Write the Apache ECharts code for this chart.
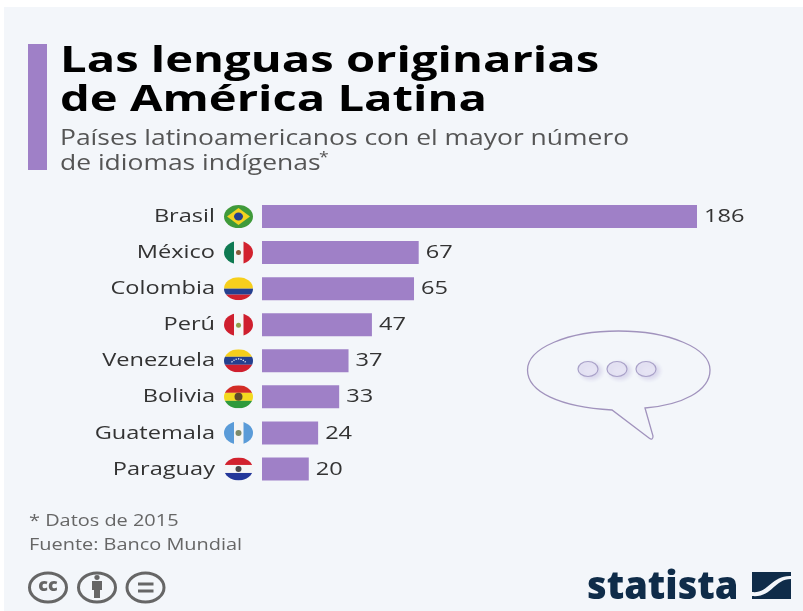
<!DOCTYPE html>
<html><head><meta charset="utf-8">
<style>html,body{margin:0;padding:0;background:#fff}#c{width:803px;height:611px}</style>
<script src="https://cdn.jsdelivr.net/npm/echarts@6/dist/echarts.min.js"></script>
</head><body><div id="c"></div>
<script>
const countries = ['Brasil','México','Colombia','Perú','Venezuela','Bolivia','Guatemala','Paraguay'];
const languages = [186,67,65,47,37,33,24,20];
const titleLines = ['Las lenguas originarias','de América Latina'];
const subtitleLines = ['Países latinoamericanos con el mayor número','de idiomas indígenas'];
const noteLines = ['* Datos de 2015','Fuente: Banco Mundial'];

function svg(body){
  return 'data:image/svg+xml;charset=utf-8,'+encodeURIComponent(
   '<svg xmlns="http://www.w3.org/2000/svg" width="58" height="46" viewBox="0 0 58 46"><defs><clipPath id="e"><ellipse cx="29" cy="23" rx="29" ry="23"/></clipPath></defs><g clip-path="url(#e)">'+body+'</g></svg>');
}
const R=(x,y,w,h,f)=>`<rect x="${x}" y="${y}" width="${w}" height="${h}" fill="${f}"/>`;
const flags = {
 'Brasil': svg(R(0,0,58,46,'#3f9a3a')+'<path d="M29 6 L52 23 L29 40 L6 23Z" fill="#f2d21f"/><ellipse cx="29" cy="23" rx="9" ry="8" fill="#24408e"/>'),
 'México': svg(R(0,0,20,46,'#0f7a52')+R(20,0,19,46,'#f5f5f5')+R(39,0,19,46,'#d2222e')+'<ellipse cx="29" cy="23" rx="5" ry="5" fill="#8a5a3a"/>'),
 'Colombia': svg(R(0,0,58,23,'#f6cf1c')+R(0,23,58,12,'#25408f')+R(0,35,58,11,'#d2222e')),
 'Perú': svg(R(0,0,20,46,'#cf1f2e')+R(20,0,19,46,'#f5f5f5')+R(39,0,19,46,'#cf1f2e')+'<ellipse cx="29" cy="24" rx="5" ry="5" fill="#8fa04a"/>'),
 'Venezuela': svg(R(0,0,58,15,'#f6cf1c')+R(0,15,58,16,'#25408f')+R(0,31,58,15,'#cf1f2e')+'<path d="M15 26 Q29 12 43 26" fill="none" stroke="#fff" stroke-width="2.5" stroke-dasharray="2.5 2.5"/>'),
 'Bolivia': svg(R(0,0,58,15,'#d32c26')+R(0,15,58,16,'#f3d91f')+R(0,31,58,15,'#2f9a3c')+'<ellipse cx="29" cy="23" rx="8" ry="8" fill="#5a4a2a"/>'),
 'Guatemala': svg(R(0,0,20,46,'#5a9bd8')+R(20,0,19,46,'#f5f5f5')+R(39,0,19,46,'#5a9bd8')+'<ellipse cx="29" cy="23" rx="6" ry="6" fill="#7d8a6a"/>'),
 'Paraguay': svg(R(0,0,58,15,'#d2222e')+R(0,15,58,16,'#f5f5f5')+R(0,31,58,15,'#24389a')+'<ellipse cx="29" cy="23" rx="6" ry="6" fill="#4a4a4a"/>')
};

const FONT='"Open Sans"';
const PURPLE='#9f80c7';
function txt(t,x,y,size,weight,fill,sx){
  return {type:'text',x,y:y-size*0.81,scaleX:sx||1,silent:true,
    style:{text:t,x:0,y:0,fontFamily:FONT,fontSize:size,fontWeight:weight,fill,textAlign:'left',verticalAlign:'top'}};
}
const ell=(cx,cy,rx,ry)=>`M${cx-rx} ${cy} A${rx} ${ry} 0 1 1 ${cx+rx} ${cy} A${rx} ${ry} 0 1 1 ${cx-rx} ${cy} Z`;
const LSX=1.31;
const DARK='#0f2c49', GREY='#666';
const ring=(cx)=>({type:'path',shape:{pathData:ell(cx,587.5,18.5,14.5)},style:{fill:'none',stroke:GREY,lineWidth:3}});
const deco=[
  {type:'path',shape:{pathData:'M612 410 C560 407 527.5 392 527.5 370 C527.5 348 568 331 618.5 331 C669 331 710 348 710 370 C710 391 682 405 645 408 L653 436 Q653 441 649 438 Z'},style:{fill:'none',stroke:'#a193bd',lineWidth:1.3}},
  ...[588,617,646].map(x=>({type:'path',shape:{pathData:ell(x,369,10,7.5)},style:{fill:'#e6e4f4',stroke:'#a9a1c8',lineWidth:1.2,shadowBlur:4,shadowColor:'#d5d2ea',shadowOffsetX:3,shadowOffsetY:2}})),
  ring(48),ring(97),ring(145.5),
  {type:'path',shape:{pathData:'M92 581 H102 V590 H100 V598 H94 V590 H92 Z'},style:{fill:GREY}},
  {type:'path',shape:{pathData:ell(97,577.5,2.6,2.4)},style:{fill:GREY}},
  {type:'path',shape:{pathData:'M138 582.5 H153.5 V585.5 H138 Z M138 589.5 H153.5 V592.5 H138 Z'},style:{fill:GREY}},
  {type:'path',shape:{pathData:'M752 572 H791 V576 C772 575 768 594 752 592 Z'},style:{fill:DARK}},
  {type:'path',shape:{pathData:'M791 579 V599 H752 V596 C772 598 774 579 791 579 Z'},style:{fill:DARK}}
];
const chart=echarts.init(document.getElementById('c'),null,{renderer:'canvas'});
chart.setOption({
 animation:false,
 backgroundColor:'#fff',
 grid:{left:262,top:198.5,width:435,height:288.5},
 xAxis:{type:'value',min:0,max:186,show:false},
 yAxis:{type:'category',data:countries,inverse:true,axisLine:{show:false},axisTick:{show:false},axisLabel:{show:false}},
 series:[
  {type:'bar',data:languages,barWidth:23,itemStyle:{color:PURPLE}},
  {type:'custom',data:languages.map((v,i)=>[v,i]),encode:{x:0,y:1},silent:true,z:5,clip:false,
   renderItem:(p,api)=>{
     const v=api.value(0),i=api.value(1);
     const base=api.coord([0,i]),end=api.coord([v,i]);
     const tx=(t,x,align)=>({type:'text',x,y:base[1]+0.5,scaleX:LSX,
        style:{text:t,x:0,y:0,fontFamily:FONT,fontSize:18,fill:'#333',align:align,verticalAlign:'middle'}});
     return {type:'group',children:[
       {type:'image',style:{image:flags[countries[i]],x:base[0]-38,y:base[1]-11.5,width:29,height:23}},
       tx(countries[i],base[0]-47,'right'),
       tx(String(v),end[0]+7,'left')
     ]};
   }},
  {type:'custom',data:[[0,0]],silent:true,z:6,clip:false,renderItem:()=>({type:'group',children:deco})}
 ],
 graphic:[
  {type:'rect',z:-10,shape:{x:4,y:7,width:799,height:604},style:{fill:'#f3f6fa'},silent:true},
  {type:'rect',shape:{x:28,y:44,width:19,height:126},style:{fill:PURPLE},silent:true},
  txt(titleLines[0],60,73,36,700,'#000',1.31),
  txt(titleLines[1],60,112,36,700,'#000',1.31),
  txt(subtitleLines[0],60,146,21,400,'#555',1.26),
  txt(subtitleLines[1],60,171,21,400,'#555',1.26),
  txt('*',319,162,14,400,'#555',1.26),
  txt(noteLines[0],29,526,16,400,'#666',1.245),
  txt(noteLines[1],29,550,16,400,'#666',1.245),
  {type:'text',silent:true,style:{text:'cc',x:48,y:586,fontFamily:FONT,fontWeight:800,fontSize:18,fill:GREY,align:'center',verticalAlign:'middle'}},
  txt('statista',587,600,38,800,DARK,1.0)
 ]
});
</script></body></html>
